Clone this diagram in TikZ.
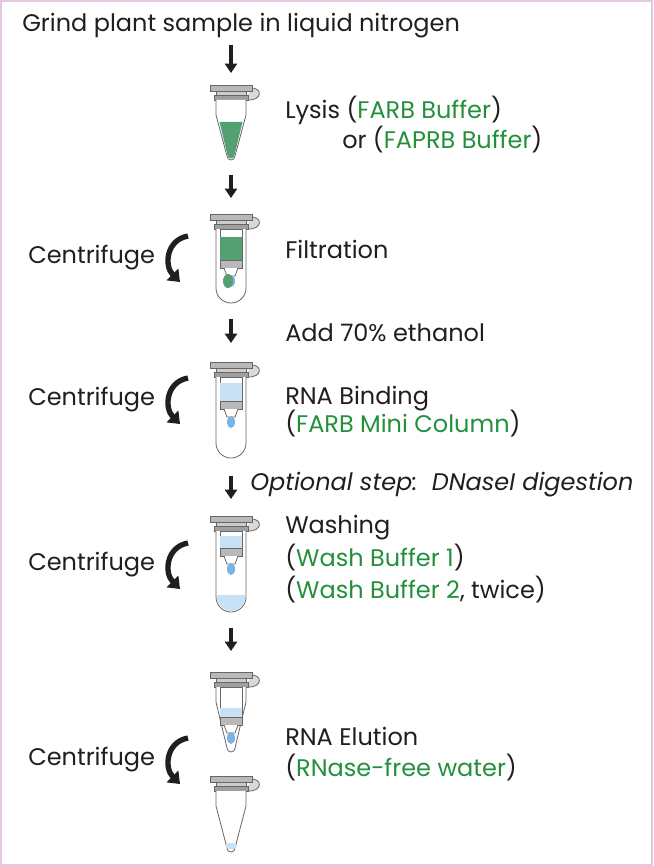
\documentclass[tikz,border=0pt]{standalone}
\usepackage{fontspec}
\setmainfont{Poppins}
\usetikzlibrary{arrows.meta}
\definecolor{frame}{RGB}{228,200,225}
\definecolor{grn}{RGB}{35,145,60}
\definecolor{liq}{RGB}{85,160,115}
\definecolor{blu}{RGB}{200,225,245}
\definecolor{drop}{RGB}{120,180,230}
\definecolor{ink}{RGB}{35,30,30}
\tikzset{
  lbl/.style={anchor=west,inner sep=0pt,font=\fontsize{18}{20}\selectfont,text=ink},
  dn/.style={-{Triangle[length=7pt,width=9pt]},line width=2.6pt,draw=ink},
  cen/.style={line width=4pt,draw=ink,-{Triangle[length=8pt,width=12pt]}},
  tb/.style={draw=gray!80!black,line width=0.6pt},
}
\newcommand\tcap[2]{%
  \draw[tb,fill=gray!30] (#1+19,#2+3) .. controls (#1+32,#2+2) and (#1+32,#2+16) .. (#1+16,#2+15);
  \draw[tb,fill=gray!55] (#1-21,#2) rectangle (#1+21,#2+6);
  \draw[tb,fill=gray!40] (#1-15,#2+6) rectangle (#1+15,#2+10);
  \draw[tb,fill=gray!75] (#1-17,#2+10) rectangle (#1+17,#2+15);
}
\newcommand\straightbody[3]{% x, top, bottom
  \draw[tb,fill=white] (#1-15,#2+15) -- (#1-15,#3-15) arc[start angle=180,end angle=0,radius=15] -- (#1+15,#2+15);
}
\newcommand\conebody[3]{%
  \draw[tb,fill=white] (#1-15,#2+15) -- (#1-15,#2+30) -- (#1-4,#3-4) arc[start angle=180,end angle=0,radius=4] -- (#1+15,#2+30) -- (#1+15,#2+15);
}
\newcommand\column[5]{% x, top, fritY, fill colour, liquid top
  \draw[tb,fill=white] (#1-11,#2+15) rectangle (#1+11,#3);
  \fill[#4] (#1-11,#5) rectangle (#1+11,#3);
  \draw[tb,fill=gray!55] (#1-11,#3) rectangle (#1+11,#3+8);
  \draw[tb,fill=white] (#1-7,#3+8) -- (#1-4,#3+16) -- (#1+4,#3+16) -- (#1+7,#3+8);
  \fill[drop] (#1,#3+21) ellipse[x radius=4,y radius=6];
}
\begin{document}
\begin{tikzpicture}[x=0.75pt,y=-0.75pt]
\draw[frame,line width=1.5pt,fill=white] (1,1) rectangle (652,865);
\useasboundingbox (0,0) rectangle (653,866);

\node[lbl] (t0) at (22,26) {Grind plant sample in liquid nitrogen};
% arrows
\coordinate (a1s) at (231,45); \coordinate (a1e) at (231,73);
\draw[dn] (a1s) -- (a1e);
\coordinate (a2s) at (231,175); \coordinate (a2e) at (231,198);
\draw[dn] (a2s) -- (a2e);
\coordinate (a3s) at (231,319); \coordinate (a3e) at (231,343);
\draw[dn] (a3s) -- (a3e);
\coordinate (a4s) at (231,476); \coordinate (a4e) at (231,499);
\draw[dn] (a4s) -- (a4e);
\coordinate (a5s) at (231,628); \coordinate (a5e) at (231,651);
\draw[dn] (a5s) -- (a5e);

% tube 1: lysis
\tcap{231}{85}
\conebody{231}{85}{160}
\fill[liq] (219.5,122) -- (227.5,155) arc[start angle=180,end angle=0,radius=3.5] -- (242.5,122) -- cycle;
\node[lbl] (l1) at (285,110) {Lysis (\textcolor{grn}{FARB Buffer})};
\node[lbl] (l2) at (342,140) {or (\textcolor{grn}{FAPRB Buffer})};

% tube 2: filtration
\tcap{231}{214}
\straightbody{231}{214}{303}
\column{231}{214}{260}{liq}{237}
\fill[liq] (228,281) ellipse[x radius=5,y radius=7];
\node[lbl] (c1) at (28,258) {Centrifuge};
\node[lbl] (f) at (285,249) {Filtration};
\node[lbl] (e) at (285,333) {Add 70\% ethanol};

% tube 3: binding
\tcap{231}{362}
\straightbody{231}{362}{458}
\column{231}{362}{401}{blu}{383}
\node[lbl] (c2) at (28,400) {Centrifuge};
\node[lbl] (b1) at (285,399) {RNA Binding};
\node[lbl] (b2) at (285,424) {(\textcolor{grn}{FARB Mini Column})};
\node[lbl,font=\fontsize{18}{20}\selectfont\itshape] (opt) at (250,485) {Optional step:\ \ DNaseI digestion};

% tube 4: washing
\tcap{231}{516}
\straightbody{231}{516}{612}
\column{231}{516}{548}{blu}{536}
\fill[blu] (217,595) -- (245,595) -- (245,597) arc[start angle=0,end angle=180,radius=14] -- cycle;
\node[lbl] (c3) at (28,565) {Centrifuge};
\node[lbl] (w1) at (285,528) {Washing};
\node[lbl] (w2) at (285,558) {(\textcolor{grn}{Wash Buffer 1})};
\node[lbl] (w3) at (285,590) {(\textcolor{grn}{Wash Buffer 2}, twice)};

% tube 5: column in collection tube
\tcap{231}{672}
\conebody{231}{672}{752}
\column{231}{672}{717}{blu}{708}
% tube 6
\tcap{231}{776}
\conebody{231}{776}{852}
\fill[blu] (231,846) ellipse[x radius=6,y radius=3];
\node[lbl] (c4) at (28,760) {Centrifuge};
\node[lbl] (r1) at (285,736) {RNA Elution};
\node[lbl] (r2) at (285,768) {(\textcolor{grn}{RNase-free water})};

% centrifuge arrows
\foreach \y in {258,400,565,760}{
  \draw[cen] (188,\y-22) .. controls (166,\y-18) and (164,\y+8) .. (180,\y+24);
}
\end{tikzpicture}
\end{document}
